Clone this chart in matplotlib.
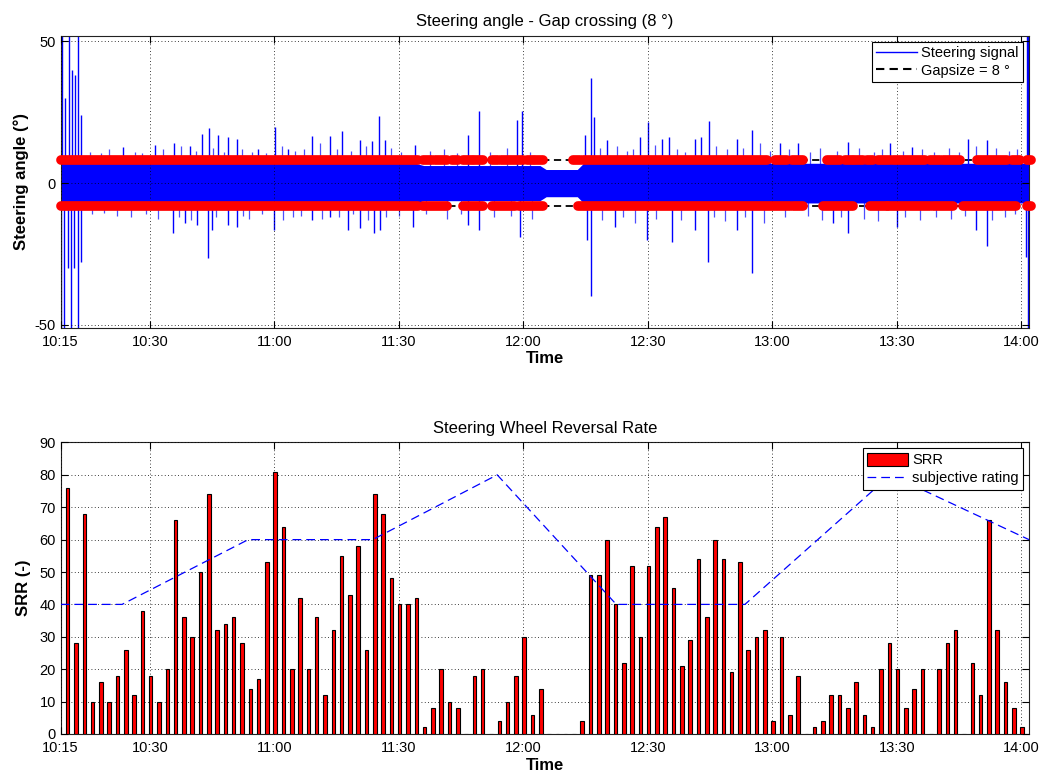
import matplotlib
matplotlib.use("Agg")
import matplotlib.pyplot as plt
import numpy as np
from matplotlib.lines import Line2D
from matplotlib.patches import Patch

plt.rcParams['font.family'] = ['Liberation Sans', 'DejaVu Sans']
plt.rcParams['axes.unicode_minus'] = False

# ---------------- data (time in minutes after 10:00) ----------------
xtick_pos = [8.5, 30, 60, 90, 120, 150, 180, 210, 240]
xtick_labels = ['10:15', '10:30', '11:00', '11:30', '12:00', '12:30', '13:00', '13:30', '14:00']
x_limits = (8.5, 241.85)

# SRR bars: one every 2 minutes starting at 10:10.2
srr_start = 10.2
srr_step = 2.0
srr_values = [76, 28, 68, 10, 16, 10, 18, 26, 12, 38, 18, 10, 20, 66, 36, 30, 50, 74, 32, 34,
              36, 28, 14, 17, 53, 81, 64, 20,
              42, 20, 36, 12, 32, 55, 43, 58, 26, 74, 68, 48, 40, 40, 42, 2, 8, 20, 10, 8, 0, 18,
              20, 0, 4, 10, 18, 30, 6, 14,
              0, 0, 0, 0,
              4, 49, 49, 60, 40, 22, 52, 30, 52, 64, 67, 45, 21, 29, 54, 36, 60, 54, 19, 53,
              26, 30, 32, 4,
              30, 6, 18, 0, 2, 4, 12, 12, 8, 16, 6, 2, 20, 28, 20, 8, 14, 20, 0, 20,
              28, 32, 0, 22, 12, 66, 32, 16, 8, 2]

# subjective rating (piecewise linear)
rating_t = [8.5, 23.3, 53.7, 83.7, 113.7, 142.4, 173.4, 208.5, 241.85]
rating_v = [40, 40, 60, 60, 80, 40, 40, 80, 60]

# steering signal: base band amplitude
band_t = [8.5, 94.0, 96.0, 124.0, 125.5, 133.0, 134.5, 241.85]
band_amp = [7.0, 7.0, 6.2, 6.2, 4.8, 4.8, 7.0, 7.0]

# steering signal: upward spikes
up_t = [8.8, 9.6, 10.4, 11.2, 12.0, 12.8, 13.3, 23.6, 31.3, 35.9, 39.7, 42.5, 44.3, 46.5,
        48.9, 50.9, 56.1, 60.2, 63.4, 69.0, 73.4, 76.4, 80.7, 83.5, 85.1, 86.7, 93.9,
        106.6, 109.2, 118.4, 119.6, 134.8, 136.2, 137.0, 140.1, 148.1, 150.1, 153.3, 155.0,
        161.4, 162.7, 164.8, 171.4, 175.0, 181.9, 186.3, 198.3, 208.4, 213.6, 227.2, 231.7,
        241.4, 241.6]
up_v = [55, 30, 55, 40, 38, 55, 24, 12.8, 13.4, 14, 13, 17.5, 19.6, 16.9,
        16.3, 15.7, 12.2, 19.8, 12.2, 16.5, 16.5, 18.4, 15.1, 15, 23.6, 15.1, 13.4,
        16.9, 25.5, 22.4, 25.5, 16.9, 37.2, 23.4, 15.1, 16.3, 21.6, 15.7, 16.3,
        15.7, 16.3, 21.9, 15.7, 18.7, 14, 14, 14.6, 14, 12.8, 15.7, 15.1,
        55, 55]

# steering signal: downward spikes
dn_t = [8.7, 9.4, 10.2, 11.0, 11.8, 12.8, 13.4, 35.6, 38.5, 41.3, 44.0, 44.9, 48.8, 50.9,
        59.8, 69.0, 73.4, 77.8, 80.7, 83.9, 85.5, 93.5, 106.6, 109.2, 119.2, 135.3, 136.2,
        142.1, 149.7, 155.8, 161.4, 164.6, 171.4, 175.0, 194.7, 198.3, 210.0, 229.2, 231.7,
        241.2, 241.6]
dn_v = [-55, -55, -30, -55, -30, -55, -28, -17.7, -14, -14.8, -26.5, -16.5, -14.8, -15.4,
        -16.5, -13, -11.9, -16.5, -16, -17.7, -16.5, -15.4, -14.8, -16.5, -18.9, -20, -39.8,
        -15.4, -20, -20.7, -16.5, -27.7, -16.5, -31.8, -14.2, -17.7, -15.4, -16.5, -22.2,
        -26, -55]

# small spikes just outside the band (fringe), estimated
fringe_up_t = [15.5, 18.2, 20.1, 26.4, 28.0, 33.2, 37.4, 41.0, 45.3, 47.8, 52.2, 54.5, 58.0,
               61.8, 65.0, 67.2, 71.0, 75.0, 78.5, 82.0, 88.0, 90.5, 97.5, 101.0, 104.0,
               112.0, 116.0, 121.5, 138.5, 142.5, 145.0, 146.5, 151.8, 157.0, 159.0,
               166.5, 169.0, 173.0, 177.0, 179.5, 184.0, 189.0, 191.5, 195.5, 201.0,
               204.5, 206.5, 211.5, 216.0, 219.0, 222.5, 225.0, 229.0, 234.0, 237.0, 239.0]
fringe_up_v = [11, 10.5, 12, 11, 10.5, 12, 13, 11.5, 12.5, 11, 12, 11, 10.5,
               13, 11.5, 12, 14, 12, 11.5, 13, 12.5, 11, 11.5, 12, 10.5,
               11, 12.5, 11, 12.5, 13, 11.5, 12, 13.5, 12, 11,
               13, 12, 12.5, 14, 11.5, 12, 11, 12.5, 11.5, 12.5,
               11, 12, 11.5, 12, 11, 12.5, 11, 13, 12.5, 11.5, 12]
fringe_dn_t = [16.0, 19.0, 22.0, 25.5, 29.0, 32.0, 37.0, 40.0, 46.0, 52.5, 54.0, 57.0, 62.0,
               64.5, 66.5, 71.5, 75.5, 79.0, 82.5, 87.0, 90.0, 96.5, 101.5, 105.0, 113.0,
               117.0, 122.0, 139.0, 144.0, 147.0, 152.0, 158.0, 166.0, 168.5, 173.5, 178.0,
               183.0, 188.5, 192.0, 196.5, 202.0, 205.5, 212.0, 215.5, 219.5, 223.0, 226.5,
               233.0, 236.0, 238.5]
fringe_dn_v = [-11, -10.5, -11.5, -12, -11, -12.5, -12, -13, -12, -11.5, -12.5, -11, -13,
               -12, -11.5, -12.5, -12, -11, -13, -12, -11.5, -11, -12.5, -11, -12,
               -11.5, -12.5, -13, -12, -14, -12.5, -13, -12, -13.5, -12, -14,
               -12, -11.5, -13, -12, -12.5, -13.5, -12, -13, -12, -12.5, -11.5,
               -13, -12, -11]

# gap crossings (runs of markers) at +8 and -8
gap_size = 8
upper_runs = [(8.6, 94.6), (95.8, 98.0), (98.7, 101.6), (102.8, 104.3), (105.5, 107.6),
              (108.1, 110.3), (112.5, 113.9), (114.6, 119.9), (120.9, 122.3), (122.8, 124.7),
              (132.0, 133.7), (134.4, 170.3), (170.8, 178.7), (180.6, 183.5), (184.7, 187.4),
              (193.2, 196.3), (197.5, 199.2), (199.8, 201.8), (202.8, 204.2), (205.5, 208.4),
              (209.1, 216.8), (218.0, 220.4), (221.1, 225.2), (229.3, 236.5), (237.7, 239.7),
              (241.3, 242.3)]
lower_runs = [(8.6, 94.6), (95.8, 101.6), (105.5, 110.3), (112.5, 118.0), (119.0, 124.7),
              (133.2, 184.2), (185.0, 187.4), (192.2, 197.5), (198.0, 199.4), (203.5, 207.6),
              (207.9, 218.0), (218.7, 223.5), (226.0, 235.6), (236.3, 238.7), (241.3, 242.3)]

# ---------------- figure ----------------
fig = plt.figure(figsize=(10.44, 7.78), dpi=100)
ax1 = fig.add_axes([0.0581, 0.5788, 0.9275, 0.3753])
ax2 = fig.add_axes([0.0581, 0.0566, 0.9275, 0.3747])

tick_fs = 10.5
for ax in (ax1, ax2):
    ax.tick_params(direction='in', top=True, right=True, length=5, width=0.8,
                   labelsize=tick_fs, colors='black')
    ax.tick_params(axis='x', pad=5)
    for s in ax.spines.values():
        s.set_linewidth(0.8)
        s.set_color('#222222')
    ax.grid(True, linestyle=(0, (1, 3)), color='black', linewidth=0.6)
    ax.set_axisbelow(False)
    ax.set_xlim(*x_limits)
    ax.set_xticks(xtick_pos)
    ax.set_xticklabels(xtick_labels)

# ---- top: steering angle ----
bt = np.array(band_t)
ba = np.array(band_amp)
blue = '#0000FF'
ax1.vlines(fringe_up_t, 0, fringe_up_v, color='#4d4dff', linewidth=0.9, zorder=1.5)
ax1.vlines(fringe_dn_t, fringe_dn_v, 0, color='#4d4dff', linewidth=0.9, zorder=1.5)
ax1.fill_between(bt, -ba, ba, color=blue, linewidth=0, zorder=2)
ax1.vlines(up_t, 0, up_v, color=blue, linewidth=1.0, zorder=2)
ax1.vlines(dn_t, dn_v, 0, color=blue, linewidth=1.0, zorder=2)
ax1.plot([x_limits[0], 240.5], [gap_size, gap_size], color='black', ls=(0, (4, 2.5)), lw=1.3, zorder=1)
ax1.plot([x_limits[0], 240.5], [-gap_size, -gap_size], color='black', ls=(0, (4, 2.5)), lw=1.3, zorder=1)
for (a, b) in upper_runs:
    ax1.plot([a, b], [gap_size, gap_size], color='#FF0000', lw=7, solid_capstyle='round',
             zorder=3, clip_on=False)
for (a, b) in lower_runs:
    ax1.plot([a, b], [-gap_size, -gap_size], color='#FF0000', lw=7, solid_capstyle='round',
             zorder=3, clip_on=False)
ax1.set_ylim(-51, 52)
ax1.set_yticks([-50, 0, 50])
ax1.set_title('Steering angle - Gap crossing (8 °)', fontsize=12, pad=7)
ax1.set_xlabel('Time', fontsize=12, fontweight='bold', labelpad=2)
ax1.set_ylabel('Steering angle (°)', fontsize=12, fontweight='bold', labelpad=4)

h1 = [Line2D([], [], color=blue, lw=1.0),
      Line2D([], [], color='black', lw=1.5, ls=(0, (4, 2.5)))]
leg1 = ax1.legend(h1, ['Steering signal', 'Gapsize = 8 °'], loc='upper right',
                  fontsize=tick_fs, frameon=True, fancybox=False, framealpha=1,
                  edgecolor='black', borderaxespad=0.4, handlelength=2.8,
                  borderpad=0.3, labelspacing=0.25, handletextpad=0.3)
leg1.get_frame().set_linewidth(0.8)
leg1.set_zorder(10)

# ---- bottom: SRR ----
srr_t = srr_start + srr_step * np.arange(len(srr_values))
ax2.bar(srr_t, srr_values, width=0.85, color='#FF0000', edgecolor='black', linewidth=0.8,
        zorder=3)
ax2.plot(rating_t, rating_v, color=blue, lw=0.9, ls=(0, (7, 4)), zorder=4)
ax2.set_ylim(0, 90)
ax2.set_yticks(np.arange(0, 91, 10))
ax2.set_title('Steering Wheel Reversal Rate', fontsize=12, pad=7)
ax2.set_xlabel('Time', fontsize=12, fontweight='bold', labelpad=2)
ax2.set_ylabel('SRR (-)', fontsize=12, fontweight='bold', labelpad=6)
h2 = [Patch(facecolor='#FF0000', edgecolor='black', linewidth=0.8),
      Line2D([], [], color=blue, lw=0.9, ls=(0, (7, 4)))]
leg2 = ax2.legend(h2, ['SRR', 'subjective rating'], loc='upper right', fontsize=tick_fs,
                  frameon=True, fancybox=False, framealpha=1, edgecolor='black',
                  borderaxespad=0.4, handlelength=2.8, handleheight=1.0,
                  borderpad=0.3, labelspacing=0.25, handletextpad=0.3)
leg2.get_frame().set_linewidth(0.8)
leg2.set_zorder(10)

fig.savefig('out.png', dpi=100)
